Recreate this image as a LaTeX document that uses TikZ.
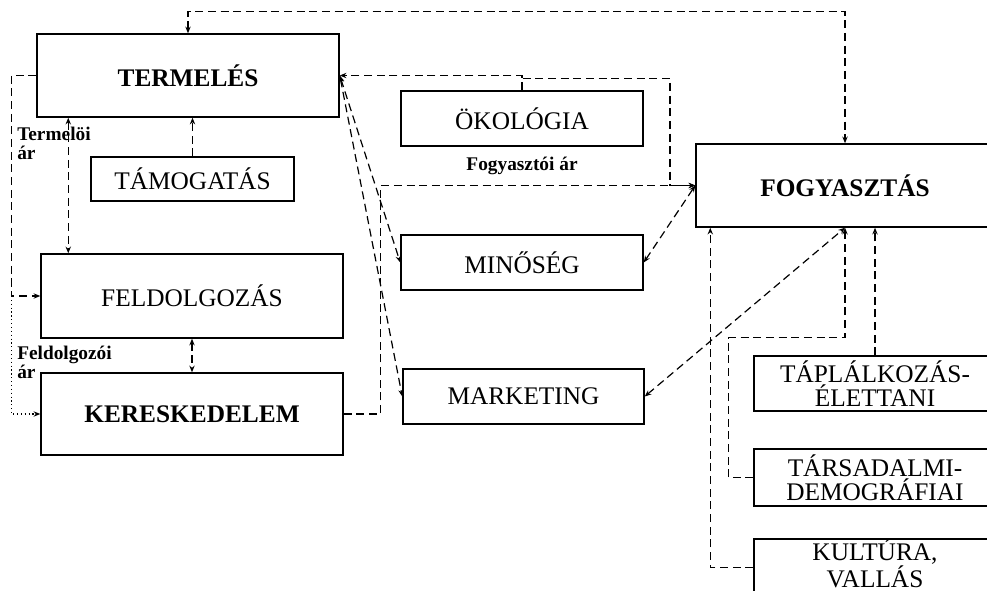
\documentclass[tikz,border=0pt]{standalone}
\usepackage{fontspec}
\setmainfont{Liberation Serif}
\usepackage{tikz}
\usetikzlibrary{calc,arrows.meta}

\tikzset{
  box/.style={draw,line width=1.1pt,inner sep=0pt,align=center,font=\fontsize{19}{18}\selectfont},
  link/.style={line width=0.9pt,dash pattern=on 6pt off 3.5pt},
  lbl/.style={font=\fontsize{14.5}{14}\selectfont\bfseries,align=left,inner sep=0pt}
}

\begin{document}
\begin{tikzpicture}[x=0.75pt,y=-0.75pt,>={Stealth[length=5pt,width=4pt]}]
  \useasboundingbox (0,0) rectangle (987,591);

  % boxes on the left
  \node[box,minimum width=302*0.75pt,minimum height=83*0.75pt] (termeles) at (188,75.5) {\bfseries TERMELÉS};
  \node[box,minimum width=203*0.75pt,minimum height=44*0.75pt] (tamogatas) at (192.5,179) {TÁMOGATÁS};
  \node[box,minimum width=302*0.75pt,minimum height=84*0.75pt] (feldolgozas) at (192,296) {FELDOLGOZÁS};
  \node[box,minimum width=302*0.75pt,minimum height=82*0.75pt] (kereskedelem) at (192,414) {\bfseries KERESKEDELEM};

  % boxes in the middle
  \node[box,minimum width=242*0.75pt,minimum height=55*0.75pt] (okologia) at (522,118.5) {ÖKOLÓGIA};
  \node[box,minimum width=242*0.75pt,minimum height=55*0.75pt] (minoseg) at (522,262.5) {MINŐSÉG};
  \node[box,minimum width=241*0.75pt,minimum height=55*0.75pt] (marketing) at (523.5,396.5) {MARKETING};

  % boxes on the right
  \node[box,minimum width=298*0.75pt,minimum height=83*0.75pt] (fogyasztas) at (845,185.5) {\bfseries FOGYASZTÁS};
  \node[box,minimum width=242*0.75pt,minimum height=55*0.75pt] (taplalkozas) at (875,383.5) {TÁPLÁLKOZÁS-\\ÉLETTANI};
  \node[box,minimum width=242*0.75pt,minimum height=57*0.75pt] (tarsadalmi) at (875,477.5) {TÁRSADALMI-\\DEMOGRÁFIAI};
  \node[box,minimum width=242*0.75pt,minimum height=57*0.75pt] (kultura) at (875,567.5) {};
  \node[align=center,inner sep=0pt,font=\fontsize{19}{17}\selectfont] (kulturatxt) at (875,563) {KULTÚRA,\\VALLÁS};

  % price labels
  \node[lbl,anchor=north west] (termeloiar) at (17,127) {Termelöi\\ár};
  \node[lbl,anchor=north west] (feldolgozoiar) at (17,346) {Feldolgozói\\ár};
  \node[lbl] (fogyasztoiar) at (522,166) {Fogyasztói ár};

  % top loop
  \draw[link,<->] (termeles.north) -- ++(0,-22) -| (fogyasztas.north);
  \draw[link,->] (tamogatas.north) -- (tamogatas.north |- termeles.south);

  % ecology
  \draw[link,->] (okologia.north) |- (termeles.east);
  \draw[link,->] (okologia.north) -- ++(0,-12) -- ++(148,0) |- (fogyasztas.west);

  % consumer price
  \draw[link,->] (kereskedelem.east) -- ++(37,0) |- (fogyasztas.west);

  % quality and marketing
  \draw[link,<->] (termeles.east) -- (minoseg.west);
  \draw[link,<->] (termeles.east) -- (marketing.west);
  \draw[link,<->] (minoseg.east) -- (fogyasztas.west);
  \draw[link,<->] (marketing.east) -- (fogyasztas.south);

  % chain on the left
  \draw[link,<->] ($(termeles.south west)+(32,0)$) coordinate (tf) -- (tf |- feldolgozas.north);
  \draw[link,<->] (feldolgozas.south) -- (kereskedelem.north);
  \coordinate (lft) at ($(feldolgozas.west)+(-29,0)$);
  \draw[link,->] (termeles.west) -| (lft) -- (feldolgozas.west);
  \draw[line width=0.9pt,dotted,->] (lft) |- (kereskedelem.west);

  % factors of consumption
  \draw[link,->] (taplalkozas.north) -- (taplalkozas.north |- fogyasztas.south);
  \draw[link,->] (tarsadalmi.west) -- ++(-25,0) -- ++(0,-140) -| (fogyasztas.south);
  \draw[link,->] (kultura.west) -| ($(fogyasztas.south west)+(15,0)$);
\end{tikzpicture}
\end{document}
